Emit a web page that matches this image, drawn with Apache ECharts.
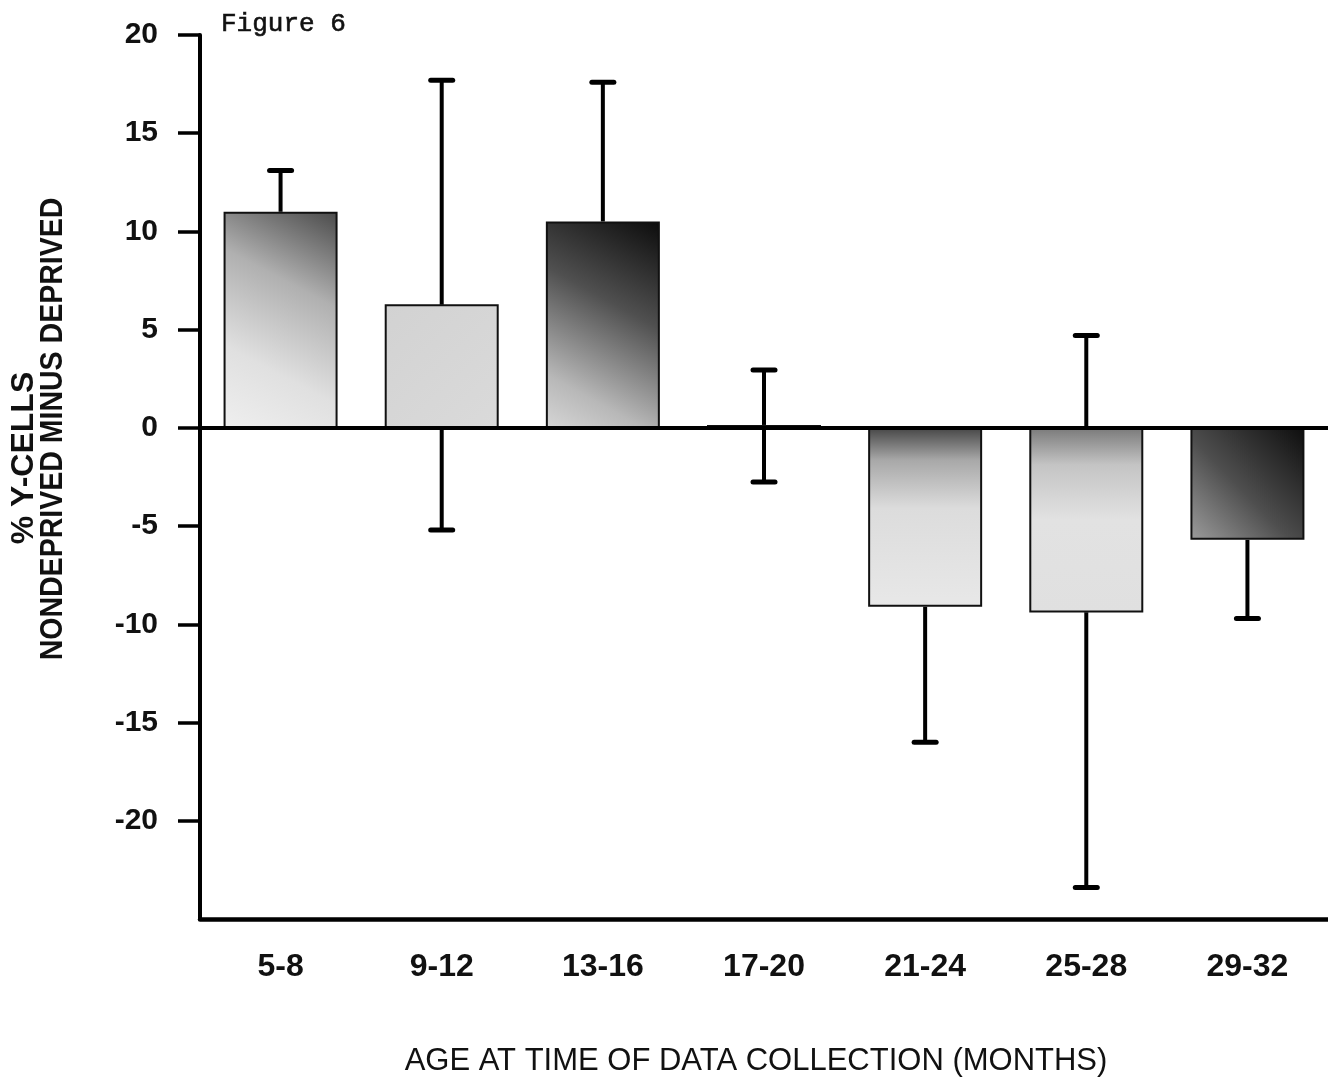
<!DOCTYPE html>
<html>
<head>
<meta charset="utf-8">
<script src="https://cdn.jsdelivr.net/npm/echarts@6/dist/echarts.min.js"></script>
<style>
html,body{margin:0;padding:0;background:#fff;}
#main{width:1328px;height:1087px;}
</style>
</head>
<body>
<div id="main"></div>
<script>
// ---- data ----
var categories = ['5-8', '9-12', '13-16', '17-20', '21-24', '25-28', '29-32'];
var meanValues = [11.0, 6.3, 10.5, 0.15, -9.1, -9.4, -5.7];
var errorUpper = [13.1, 17.7, 17.6, 2.95, null, 4.7, null];
var errorLower = [null, -5.2, null, -2.75, -16.0, -23.4, -9.7];
var yTickValues = [-20, -15, -10, -5, 0, 5, 10, 15, 20];

// ---- styles ----
function grad(x, y, x2, y2, stops) {
  return new echarts.graphic.LinearGradient(x, y, x2, y2, stops.map(function (s) { return { offset: s[0], color: s[1] }; }));
}
var barFills = [
  grad(1, 0, 0, 1, [[0, '#4a4a4a'], [0.35, '#b0b0b0'], [0.7, '#e0e0e0'], [1, '#efefef']]),
  grad(0, 0, 1, 1, [[0, '#d2d2d2'], [1, '#dadada']]),
  grad(1, 0, 0, 1, [[0, '#0c0c0c'], [0.4, '#505050'], [0.8, '#b8b8b8'], [1, '#d6d6d6']]),
  grad(0, 0, 1, 0, [[0, '#444444'], [1, '#333333']]),
  grad(0, 0, 0, 1, [[0, '#474747'], [0.18, '#a8a8a8'], [0.45, '#dcdcdc'], [1, '#e8e8e8']]),
  grad(0, 0, 0, 1, [[0, '#7a7a7a'], [0.2, '#c4c4c4'], [0.5, '#e2e2e2'], [1, '#e0e0e0']]),
  grad(1, 0, 0, 1, [[0, '#0e0e0e'], [0.55, '#4e4e4e'], [1, '#9c9c9c']])
];

var upperData = [], lowerData = [];
categories.forEach(function (c, i) {
  if (errorUpper[i] !== null) upperData.push([i, meanValues[i], errorUpper[i]]);
  if (errorLower[i] !== null) lowerData.push([i, meanValues[i], errorLower[i]]);
});

function renderErr(params, api) {
  var p0 = api.coord([api.value(0), api.value(1)]);
  var p1 = api.coord([api.value(0), api.value(2)]);
  var half = 13;
  return {
    type: 'group',
    children: [
      { type: 'line', shape: { x1: p0[0], y1: p0[1], x2: p1[0], y2: p1[1] }, style: { stroke: '#000', lineWidth: 4 } },
      { type: 'line', shape: { x1: p1[0] - half + 2, y1: p1[1], x2: p1[0] + half - 2, y2: p1[1] }, style: { stroke: '#000', lineWidth: 5, lineCap: 'round' } }
    ]
  };
}

var chart = echarts.init(document.getElementById('main'), null, { renderer: 'canvas' });
chart.setOption({
  animation: false,
  backgroundColor: '#fff',
  grid: { left: 200, right: -6, top: 35, bottom: 168, containLabel: false },
  xAxis: {
    type: 'category',
    data: categories,
    boundaryGap: true,
    axisLine: { onZero: false, lineStyle: { color: '#000', width: 4.5 } },
    axisTick: { show: false },
    axisLabel: { margin: 32, color: '#111', fontFamily: 'Liberation Sans', fontWeight: 'bold', fontSize: 32 },
    splitLine: { show: false }
  },
  yAxis: {
    type: 'value',
    min: -25, max: 20, interval: 5,
    axisLine: { show: true, lineStyle: { color: '#000', width: 4 } },
    axisTick: { show: true, inside: false, length: 22, lineStyle: { color: '#000', width: 3.5 }, customValues: yTickValues },
    axisLabel: { margin: 42, color: '#111', fontFamily: 'Liberation Sans', fontWeight: 'bold', fontSize: 30, customValues: yTickValues },
    splitLine: { show: false }
  },
  series: [
    {
      type: 'custom', renderItem: renderErr, data: upperData, z: 1,
      encode: { x: 0, y: [1, 2] }, silent: true
    },
    {
      type: 'custom', renderItem: renderErr, data: lowerData, z: 1,
      encode: { x: 0, y: [1, 2] }, silent: true
    },
    {
      type: 'bar', z: 2,
      barWidth: 114,
      data: meanValues.map(function (v, i) {
        return { value: v, itemStyle: { color: barFills[i], borderColor: '#111', borderWidth: 2 } };
      }),
      markLine: {
        silent: true, symbol: 'none', z: 3,
        label: { show: false },
        lineStyle: { color: '#000', width: 4, type: 'solid' },
        data: [{ yAxis: 0 }]
      }
    }
  ],
  graphic: [
    { type: 'text', x: 221, y: 24, style: { text: 'Figure 6', font: '26px "Liberation Mono"', fill: '#111', stroke: '#111', lineWidth: 0.6, textAlign: 'left', textVerticalAlign: 'middle' } },
    { type: 'text', x: 24, y: 458, rotation: Math.PI / 2, style: { text: '% Y-CELLS', font: 'bold 32px "Liberation Sans"', fill: '#111', textAlign: 'center', textVerticalAlign: 'middle' } },
    { type: 'text', x: 53, y: 429, rotation: Math.PI / 2, scaleX: 0.92, style: { text: 'NONDEPRIVED MINUS DEPRIVED', font: 'bold 31px "Liberation Sans"', fill: '#111', textAlign: 'center', textVerticalAlign: 'middle' } },
    { type: 'text', x: 756, y: 1061, style: { text: 'AGE AT TIME OF DATA COLLECTION (MONTHS)', font: '31px "Liberation Sans"', fill: '#111', textAlign: 'center', textVerticalAlign: 'middle' } }
  ]
});
</script>
</body>
</html>
